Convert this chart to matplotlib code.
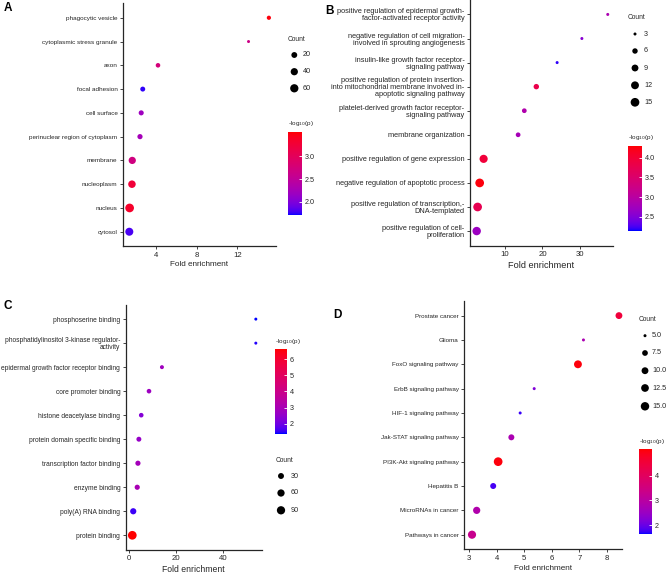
import numpy as np
import matplotlib
matplotlib.use('Agg')
import matplotlib.pyplot as plt
from matplotlib.colors import ListedColormap, Normalize

plt.rcParams['font.family'] = ['Liberation Sans', 'DejaVu Sans']

W, H = 669, 576

# A - cellular component
a_terms = ['phagocytic vesicle', 'cytoplasmic stress granule', 'axon', 'focal adhesion',
           'cell surface', 'perinuclear region of cytoplasm', 'membrane', 'nucleoplasm',
           'nucleus', 'cytosol']
a_fold = [15.1, 13.1, 4.2, 2.7, 2.55, 2.43, 1.67, 1.64, 1.41, 1.38]
a_logp = [3.5, 2.65, 2.75, 1.75, 2.2, 2.25, 2.7, 3.25, 3.35, 1.8]
a_count = [6, 3, 8, 11, 12, 13, 40, 45, 70, 55]
a_xticks = [4, 8, 12]
a_cticks = [2.0, 2.5, 3.0]
a_breaks = [20, 40, 60]

# B - biological process
b_terms = ['positive regulation of epidermal growth-\nfactor-activated receptor activity',
           'negative regulation of cell migration-\ninvolved in sprouting angiogenesis',
           'insulin-like growth factor receptor-\nsignaling pathway',
           'positive regulation of protein insertion-\ninto mitochondrial membrane involved in-\napoptotic signaling pathway',
           'platelet-derived growth factor receptor-\nsignaling pathway',
           'membrane organization',
           'positive regulation of gene expression',
           'negative regulation of apoptotic process',
           'positive regulation of transcription,-\nDNA-templated',
           'positive regulation of cell-\nproliferation']
b_fold = [37.4, 30.5, 23.9, 18.35, 15.15, 13.5, 4.3, 3.25, 2.7, 2.45]
b_logp = [2.85, 2.55, 2.2, 3.8, 2.9, 2.8, 3.95, 4.25, 3.75, 2.7]
b_count = [4, 4, 4, 6, 5, 5, 13, 15, 15, 14]
b_xticks = [10, 20, 30]
b_cticks = [2.5, 3.0, 3.5, 4.0]
b_breaks = [3, 6, 9, 12, 15]

# C - molecular function
c_terms = ['phosphoserine binding', 'phosphatidylinositol 3-kinase regulator-\nactivity',
           'epidermal growth factor receptor binding', 'core promoter binding',
           'histone deacetylase binding', 'protein domain specific binding',
           'transcription factor binding', 'enzyme binding', 'poly(A) RNA binding',
           'protein binding']
c_fold = [53.8, 53.8, 13.9, 8.4, 5.1, 4.1, 3.7, 3.4, 1.7, 1.3]
c_logp = [1.4, 1.45, 2.8, 2.75, 2.3, 2.6, 2.9, 3.0, 1.55, 6.6]
c_count = [3, 3, 6, 11, 11, 15, 18, 18, 35, 105]
c_xticks = [0, 20, 40]
c_cticks = [2, 3, 4, 5, 6]
c_breaks = [30, 60, 90]

# D - KEGG pathway
d_terms = ['Prostate cancer', 'Glioma', 'FoxO signaling pathway', 'ErbB signaling pathway',
           'HIF-1 signaling pathway', 'Jak-STAT signaling pathway', 'PI3K-Akt signaling pathway',
           'Hepatitis B', 'MicroRNAs in cancer', 'Pathways in cancer']
d_fold = [8.44, 7.15, 6.95, 5.36, 4.85, 4.53, 4.05, 3.87, 3.27, 3.1]
d_logp = [4.5, 2.75, 5.0, 2.2, 1.75, 2.75, 5.0, 1.8, 2.85, 3.3]
d_count = [10, 5, 13, 5, 5, 8, 16, 8, 11, 14]
d_xticks = [3, 4, 5, 6, 7, 8]
d_cticks = [2, 3, 4]
d_breaks = [5.0, 7.5, 10.0, 12.5, 15.0]


def srgb_to_lab(rgb):
    c = np.asarray(rgb, float)
    lin = np.where(c <= 0.04045, c / 12.92, ((c + 0.055) / 1.055) ** 2.4)
    m = np.array([[0.4124, 0.3576, 0.1805], [0.2126, 0.7152, 0.0722], [0.0193, 0.1192, 0.9505]])
    xyz = m @ lin / np.array([0.95047, 1.0, 1.08883])
    f = np.where(xyz > 0.008856, np.cbrt(xyz), 7.787 * xyz + 16 / 116)
    return np.array([116 * f[1] - 16, 500 * (f[0] - f[1]), 200 * (f[1] - f[2])])


def lab_to_srgb(lab):
    fy = (lab[0] + 16) / 116
    fx = fy + lab[1] / 500
    fz = fy - lab[2] / 200
    f = np.array([fx, fy, fz])
    xyz = np.where(f ** 3 > 0.008856, f ** 3, (f - 16 / 116) / 7.787) * np.array([0.95047, 1.0, 1.08883])
    mi = np.array([[3.2406, -1.5372, -0.4986], [-0.9689, 1.8758, 0.0415], [0.0557, -0.2040, 1.0570]])
    lin = np.clip(mi @ xyz, 0, 1)
    return np.where(lin <= 0.0031308, 12.92 * lin, 1.055 * lin ** (1 / 2.4) - 0.055)


# blue -> red ramp interpolated in Lab, like ggplot's scale_colour_gradient
lo_lab, hi_lab = srgb_to_lab([0, 0, 1]), srgb_to_lab([1, 0, 0])
cmap = ListedColormap([np.clip(lab_to_srgb(lo_lab + t * (hi_lab - lo_lab)), 0, 1)
                       for t in np.linspace(0, 1, 256)])


def px_rect(l, t, r, b):
    return [l / W, 1 - b / H, (r - l) / W, (b - t) / H]


def dot_size(count, lo, hi, dmin=3.0, dmax=8.7):
    c = np.asarray(count, float)
    d = dmin + np.sqrt(np.clip((c - lo) / (hi - lo), 0, 1)) * (dmax - dmin)
    return (d * 72 / 100) ** 2


fig = plt.figure(figsize=(W / 100, H / 100), dpi=100)
overlay = fig.add_axes([0, 0, 1, 1], zorder=10)
overlay.set_xlim(0, W)
overlay.set_ylim(H, 0)
overlay.axis('off')

ink = '#262626'


def panel(terms, fold, logp, count, box, xlim, xticks, clim, cticks, cfmt, breaks,
          cbox, leg, ysize, xlsize, linesp=1.0):
    ax = fig.add_axes(px_rect(*box))
    n = len(terms)
    y = np.arange(n)[::-1]
    lo, hi = min(count), max(count)
    sc = ax.scatter(fold, y, s=dot_size(count, lo, hi), c=logp, cmap=cmap,
                    norm=Normalize(*clim), edgecolors='none', zorder=3, clip_on=False)
    ax.set_xlim(*xlim)
    ax.set_ylim(-0.6, n - 0.4)
    ax.set_yticks(y)
    ax.set_yticklabels(terms, fontsize=ysize, linespacing=linesp, color=ink)
    ax.set_xticks(xticks)
    ax.set_xticklabels([str(v) for v in xticks], fontsize=5.6, color=ink)
    ax.set_xlabel('Fold enrichment', fontsize=xlsize, color=ink, labelpad=2)
    for s in ['top', 'right']:
        ax.spines[s].set_visible(False)
    for s in ['left', 'bottom']:
        ax.spines[s].set_color(ink)
        ax.spines[s].set_linewidth(0.9)
    ax.tick_params(length=2.5, width=0.6, color=ink, pad=1.5)

    cax = fig.add_axes(px_rect(*cbox))
    cb = fig.colorbar(sc, cax=cax, ticks=cticks, format=cfmt)
    cb.outline.set_visible(False)
    cax.tick_params(length=2.5, width=0.6, color='white', direction='in', labelsize=5.2,
                    labelcolor=ink, pad=2)
    overlay.text(cbox[0], cbox[1] - 8, '-log$_{10}$(p)', fontsize=4.6, color=ink,
                 ha='left', va='center')

    tx, ty, dx, dys, lx = leg
    overlay.text(tx, ty, 'Count', fontsize=4.8, color=ink, ha='left', va='center')
    overlay.scatter([dx] * len(breaks), dys, s=dot_size(breaks, lo, hi), color='black',
                    edgecolors='none', clip_on=False)
    for b, yy in zip(breaks, dys):
        lab = f'{b:.1f}' if isinstance(b, float) else str(b)
        overlay.text(lx, yy, lab, fontsize=5.2, color=ink, ha='left', va='center')
    return ax


panel(a_terms, a_fold, a_logp, a_count, (123, 3.5, 276, 246), (0.76, 15.8), a_xticks,
      (1.71, 3.54), a_cticks, '%.1f', a_breaks, (287.7, 131.7, 301.7, 215),
      (288, 39.3, 294.3, [55, 71.7, 88.3], 303), 4.6, 5.9)

panel(b_terms, b_fold, b_logp, b_count, (470, 0, 613, 245.5), (0.67, 38.8), b_xticks,
      (2.15, 4.3), b_cticks, '%.1f', b_breaks, (627.7, 145.7, 642.3, 230.7),
      (627.7, 17.3, 635, [34, 51, 68, 85.3, 102.3], 644), 5.3, 6.6)

panel(c_terms, c_fold, c_logp, c_count, (125.7, 304.7, 261.7, 549.7), (-1.5, 56.3), c_xticks,
      (1.38, 6.62), c_cticks, '%d', c_breaks, (275, 349, 287.3, 433.7),
      (275.3, 460.7, 281, [476, 493, 510.3], 291), 4.8, 6.2)

panel(d_terms, d_fold, d_logp, d_count, (464.3, 301, 621.7, 549.3), (2.82, 8.54), d_xticks,
      (1.65, 5.07), d_cticks, '%d', d_breaks, (639.3, 449, 651.7, 534),
      (638.3, 319.7, 645, [335.7, 353, 370.7, 388, 406.3], 652), 4.5, 5.9)

for lab, x, y in [('A', 4, 8), ('B', 325, 11), ('C', 4, 306), ('D', 333, 315)]:
    overlay.text(x, y, lab, fontsize=8.5, fontweight='bold',
                 ha='left', va='center', color='black')

fig.savefig('out.png', dpi=100)
